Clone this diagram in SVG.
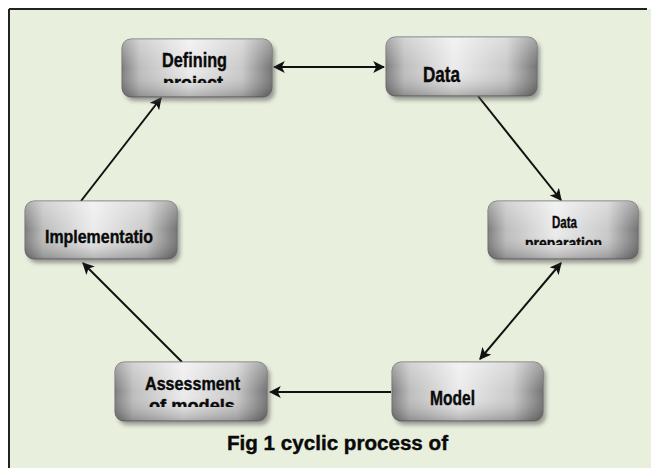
<svg xmlns="http://www.w3.org/2000/svg" width="651" height="468" viewBox="0 0 651 468">
<defs>
<linearGradient id="gh" x1="0" y1="0" x2="1" y2="0">
<stop offset="0" stop-color="#7e7e7e"/>
<stop offset="0.12" stop-color="#bdbdbd"/>
<stop offset="0.45" stop-color="#ececec"/>
<stop offset="0.8" stop-color="#c9c9c9"/>
<stop offset="1" stop-color="#747474"/>
</linearGradient>
<linearGradient id="gv" x1="0" y1="0" x2="0" y2="1">
<stop offset="0" stop-color="#ffffff" stop-opacity="0.35"/>
<stop offset="0.5" stop-color="#ffffff" stop-opacity="0"/>
<stop offset="1" stop-color="#000000" stop-opacity="0.25"/>
</linearGradient>
<filter id="sh" x="-10%" y="-10%" width="130%" height="140%">
<feGaussianBlur stdDeviation="2"/>
</filter>
<marker id="ah" viewBox="0 0 10 10" refX="9" refY="5" markerWidth="6" markerHeight="6" orient="auto-start-reverse" markerUnits="strokeWidth">
<path d="M0,0 L10,5 L0,10 L2.5,5 Z" fill="#111"/>
</marker>
<clipPath id="c1"><rect x="122" y="40" width="150" height="43"/></clipPath>
<clipPath id="c2"><rect x="488" y="202" width="150" height="43"/></clipPath>
<clipPath id="c3"><rect x="115" y="362" width="152" height="45"/></clipPath>
</defs>
<style>
.box{fill:url(#gh);stroke:#6e6e6e;stroke-width:1}
.hl{fill:url(#gv)}
.shd{fill:#555;opacity:0.55;filter:url(#sh)}
.t{font-family:"Liberation Sans",Arial,sans-serif;font-weight:bold;fill:#0a0a0a;stroke:#0a0a0a;stroke-width:0.4;text-anchor:start}
.cn{stroke:#111;stroke-width:2;fill:none;marker-end:url(#ah)}
.bi{marker-start:url(#ah)}
</style>
<rect x="0" y="0" width="651" height="468" fill="#ffffff"/>
<rect x="9" y="9" width="642" height="459" fill="#e9efdd"/>
<line x1="9" y1="9" x2="647" y2="9" stroke="#222" stroke-width="2"/>
<line x1="9" y1="9" x2="9" y2="468" stroke="#222" stroke-width="2"/>

<g id="connectors">
<line class="cn bi" x1="274" y1="67" x2="384" y2="67"/>
<line class="cn" x1="478" y1="96" x2="561" y2="200"/>
<line class="cn bi" x1="561" y1="263" x2="480" y2="359"/>
<line class="cn" x1="391" y1="392" x2="270" y2="392"/>
<line class="cn" x1="182" y1="362" x2="83" y2="263"/>
<line class="cn" x1="81" y1="201" x2="161" y2="98"/>
</g>

<g id="n-defining">
<rect class="shd" x="125" y="43" width="150" height="58" rx="9"/>
<rect class="box" x="122" y="39" width="150" height="58" rx="9"/>
<rect class="hl" x="122" y="39" width="150" height="58" rx="9"/>
<text class="t" x="162" y="67" font-size="21" textLength="65" lengthAdjust="spacingAndGlyphs">Defining</text>
<text class="t" x="163" y="89" font-size="18" textLength="60" lengthAdjust="spacingAndGlyphs" clip-path="url(#c1)">project</text>
</g>

<g id="n-data">
<rect class="shd" x="389" y="41" width="151" height="59" rx="9"/>
<rect class="box" x="386" y="37" width="151" height="59" rx="9"/>
<rect class="hl" x="386" y="37" width="151" height="59" rx="9"/>
<text class="t" x="423" y="82" font-size="22" textLength="37" lengthAdjust="spacingAndGlyphs">Data</text>
</g>

<g id="n-dataprep">
<rect class="shd" x="491" y="205" width="150" height="58" rx="9"/>
<rect class="box" x="488" y="201" width="150" height="58" rx="9"/>
<rect class="hl" x="488" y="201" width="150" height="58" rx="9"/>
<text class="t" x="552" y="228" font-size="16" textLength="25" lengthAdjust="spacingAndGlyphs">Data</text>
<text class="t" x="525" y="249" font-size="17" textLength="77" lengthAdjust="spacingAndGlyphs" clip-path="url(#c2)">preparation</text>
</g>

<g id="n-implementation">
<rect class="shd" x="28" y="205" width="152" height="58" rx="9"/>
<rect class="box" x="25" y="201" width="152" height="58" rx="9"/>
<rect class="hl" x="25" y="201" width="152" height="58" rx="9"/>
<text class="t" x="45" y="243" font-size="19" textLength="108" lengthAdjust="spacingAndGlyphs">Implementatio</text>
</g>

<g id="n-assessment">
<rect class="shd" x="118" y="366" width="152" height="59" rx="9"/>
<rect class="box" x="115" y="362" width="152" height="59" rx="9"/>
<rect class="hl" x="115" y="362" width="152" height="59" rx="9"/>
<text class="t" x="145" y="390" font-size="18" textLength="95" lengthAdjust="spacingAndGlyphs">Assessment</text>
<text class="t" x="149" y="412" font-size="18" textLength="86" lengthAdjust="spacingAndGlyphs" clip-path="url(#c3)">of  models</text>
</g>

<g id="n-model">
<rect class="shd" x="395" y="366" width="151" height="59" rx="9"/>
<rect class="box" x="392" y="362" width="151" height="59" rx="9"/>
<rect class="hl" x="392" y="362" width="151" height="59" rx="9"/>
<text class="t" x="430" y="405" font-size="20" textLength="45" lengthAdjust="spacingAndGlyphs">Model</text>
</g>

<text class="t" x="227" y="450" font-size="20" textLength="221" lengthAdjust="spacingAndGlyphs">Fig 1  cyclic  process  of</text>
</svg>
